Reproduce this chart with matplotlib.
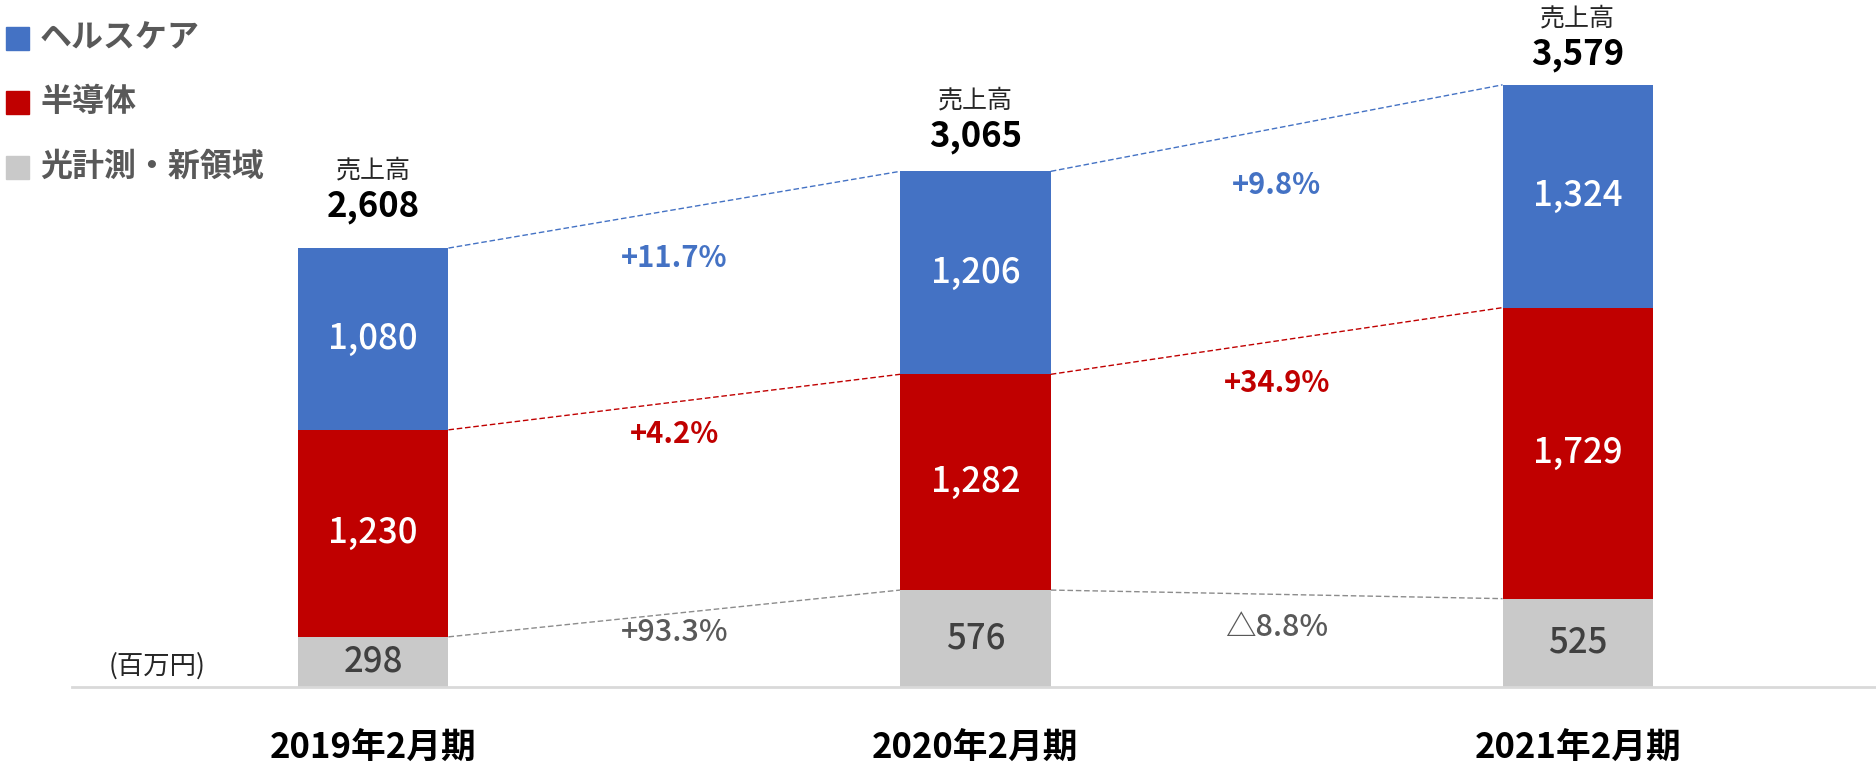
import matplotlib
matplotlib.use("Agg")
import matplotlib.pyplot as plt
from matplotlib.patches import Rectangle

plt.rcParams['font.family'] = ['Noto Sans CJK JP', 'DejaVu Sans']

# ---- data ----
periods = ["2019年2月期", "2020年2月期", "2021年2月期"]
series_names = ["ヘルスケア", "半導体", "光計測・新領域"]
optical = [298, 576, 525]
semiconductor = [1230, 1282, 1729]
healthcare = [1080, 1206, 1324]
totals = [2608, 3065, 3579]
growth_health = ["+11.7%", "+9.8%"]
growth_semi = ["+4.2%", "+34.9%"]
growth_optical = ["+93.3%", "△8.8%"]

# ---- style ----
C_BLUE = "#4472C4"
C_RED = "#C00000"
C_GRAY = "#C9C9C9"
C_TXT_GRAY = "#595959"

W, H = 1876, 768
fig = plt.figure(figsize=(W / 100, H / 100), dpi=100)
ax = fig.add_axes([72 / W, 81 / H, 1 - 72 / W, 1 - 81 / H])
ax.set_xlim(-0.5, 2.495)
ax.set_ylim(0, 4082)
for s in ["top", "right", "left"]:
    ax.spines[s].set_visible(False)
ax.spines["bottom"].set_color("#D9D9D9")
ax.spines["bottom"].set_linewidth(2)
ax.set_yticks([])
ax.set_xticks([])

x = list(range(len(periods)))
bw = 0.25
bottom_semi = optical
bottom_health = [a + b for a, b in zip(optical, semiconductor)]
ax.bar(x, optical, bw, color=C_GRAY, zorder=2)
ax.bar(x, semiconductor, bw, bottom=bottom_semi, color=C_RED, zorder=2)
ax.bar(x, healthcare, bw, bottom=bottom_health, color=C_BLUE, zorder=2)

# segment labels
for i in x:
    ax.text(i, optical[i] / 2, f"{optical[i]:,}", ha="center", va="center",
            fontsize=25, fontweight="medium", color="#404040")
    ax.text(i, bottom_semi[i] + semiconductor[i] / 2, f"{semiconductor[i]:,}",
            ha="center", va="center", fontsize=25, fontweight="medium", color="white")
    ax.text(i, bottom_health[i] + healthcare[i] / 2, f"{healthcare[i]:,}",
            ha="center", va="center", fontsize=25, fontweight="medium", color="white")

# totals
num_offsets = [30, 25, 22]
for i in x:
    top = bottom_health[i] + healthcare[i]
    ax.annotate(f"{totals[i]:,}", (i, top), xytext=(0, num_offsets[i]),
                textcoords="offset points", ha="center", va="center",
                fontsize=25, fontweight="bold", color="black")
    ax.annotate("売上高", (i, top), xytext=(0, num_offsets[i] + 26),
                textcoords="offset points", ha="center", va="center",
                fontsize=18, color="#262626")

# connector lines
tops_opt = optical
tops_semi = bottom_health
tops_health = [a + b for a, b in zip(bottom_health, healthcare)]
for tops, col in [(tops_health, C_BLUE), (tops_semi, C_RED), (tops_opt, "#8C8C8C")]:
    for i in range(len(x) - 1):
        ax.plot([x[i] + bw / 2, x[i + 1] - bw / 2], [tops[i], tops[i + 1]],
                color=col, lw=1.0, ls=(0, (4, 2)), zorder=1)

# growth labels
pos_health = [2549, 2983]
pos_semi = [1503, 1806]
pos_opt = [321, 356]
for i in range(len(x) - 1):
    xm = (x[i] + x[i + 1]) / 2
    ax.text(xm, pos_health[i], growth_health[i], ha="center", va="center",
            fontsize=21, fontweight="bold", color=C_BLUE)
    ax.text(xm, pos_semi[i], growth_semi[i], ha="center", va="center",
            fontsize=21, fontweight="bold", color=C_RED)
    ax.text(xm, pos_opt[i], growth_optical[i], ha="center", va="center",
            fontsize=22, fontweight="medium", color=C_TXT_GRAY)

# x labels
for i in x:
    ax.annotate(periods[i], (i, 0), xytext=(0, -44), textcoords="offset points",
                ha="center", va="center", fontsize=25, fontweight="bold",
                color="black", annotation_clip=False)

# unit
fig.text(157 / W, 1 - 666 / H, "(百万円)", ha="center", va="center",
         fontsize=19, color="#262626")

# legend
leg_colors = [C_BLUE, C_RED, C_GRAY]
leg_y = [38, 102, 167]
for name, col, yy in zip(series_names, leg_colors, leg_y):
    fig.patches.append(Rectangle((6 / W, 1 - (yy + 11.5) / H), 23 / W, 23 / H,
                                 transform=fig.transFigure, color=col))
    fig.text(40 / W, 1 - yy / H, name, ha="left", va="center", fontsize=23,
             fontweight="bold", color=C_TXT_GRAY)

fig.savefig("out.png", dpi=100, facecolor="white")
